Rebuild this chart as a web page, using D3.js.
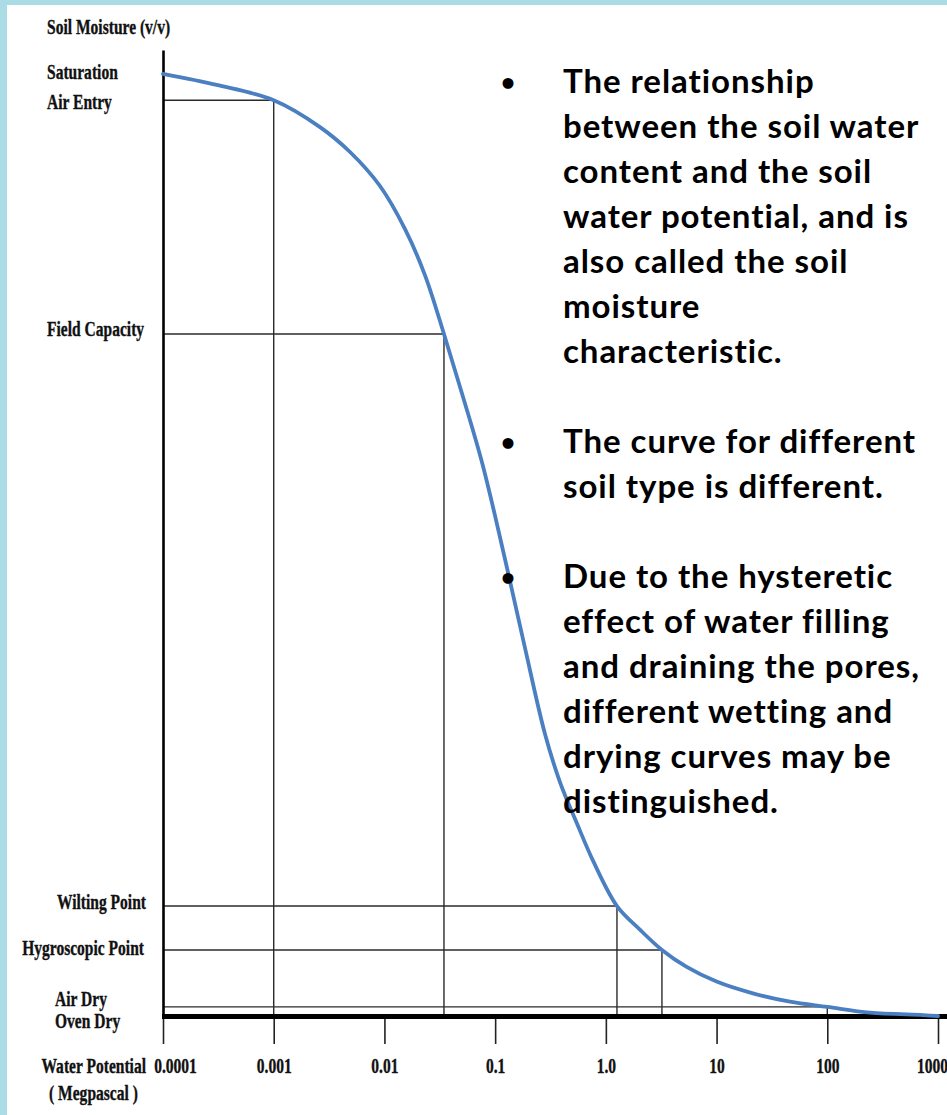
<!DOCTYPE html>
<html>
<head>
<meta charset="utf-8">
<script src="https://cdn.jsdelivr.net/npm/d3@7"></script>
<style>
  html, body { margin: 0; padding: 0; background: #a9dce4; }
  svg { display: block; }
</style>
</head>
<body>
<svg id="chart" width="947" height="1115"></svg>
<script>
// ---- data ----
const curvePotential = [0.0001, 0.000305, 0.001, 0.00262, 0.00489, 0.00912, 0.01535, 0.02322, 0.0345,
                        0.0513, 0.0776, 0.128, 0.186, 0.282, 0.385, 0.546, 0.771, 1.26, 2.03, 3.21,
                        5.37, 10, 21.3, 46, 100, 243, 731, 1000];
const curveMoisture  = [48.76, 48.19, 47.4, 46.01, 44.72, 42.96, 40.73, 38.35, 35.3,
                        32.04, 28.47, 23.19, 19.05, 14.6, 12.11, 9.99, 8.0, 5.69, 4.47, 3.42,
                        2.54, 1.78, 1.17, 0.74, 0.47, 0.17, 0.05, 0.0];

const levelNames     = ["Air Entry", "Field Capacity", "Wilting Point", "Hygroscopic Point", "Air Dry"];
const levelMoisture  = [47.4, 35.3, 5.69, 3.42, 0.47];
const levelPotential = [0.001, 0.0345, 1.26, 3.21, 100];

const extraLabelNames    = ["Saturation", "Oven Dry"];
const extraLabelMoisture = [48.76, 0];

const tickValues = [0.0001, 0.001, 0.01, 0.1, 1, 10, 100, 1000];
const tickLabels = ["0.0001", "0.001", "0.01", "0.1", "1.0", "10", "100", "1000"];

const yTitle = "Soil Moisture (v/v)";
const xTitle = ["Water Potential", "( Megpascal )"];

const bullets = [
  ["The relationship", "between the soil water", "content and the soil", "water potential, and is", "also called the soil", "moisture", "characteristic."],
  ["The curve for different", "soil type is different."],
  ["Due to the hysteretic", "effect of water filling", "and draining the pores,", "different wetting and", "drying curves may be", "distinguished."]
];

// ---- drawing ----
const svg = d3.select("#chart");
svg.append("rect").attr("x", 7).attr("y", 5).attr("width", 940).attr("height", 1110).attr("fill", "#ffffff");

const x = d3.scaleLog().domain([0.0001, 1000]).range([163, 938]);
const y = d3.scaleLinear().domain([0, 50]).range([1016, 50]);

const serif = "'Liberation Serif', 'Times New Roman', serif";
const sx = 0.74;
function styleSerif(sel) {
  return sel.attr("font-family", serif).attr("font-weight", "bold").attr("font-size", 21)
    .attr("fill", "#111").attr("stroke", "#111").attr("stroke-width", 0.35);
}
function serifLabel(g, txt, px, py, anchor) {
  return styleSerif(g.append("text")
    .attr("transform", `translate(${px},${py}) scale(${sx},1)`)
    .attr("text-anchor", anchor || "start")).text(txt);
}

// reference lines
const refs = svg.append("g").attr("stroke", "#2a2a2a").attr("stroke-width", 1.4).attr("fill", "none");
levelNames.forEach((n, i) => {
  refs.append("line").attr("x1", x(0.0001)).attr("x2", x(levelPotential[i]))
    .attr("y1", y(levelMoisture[i])).attr("y2", y(levelMoisture[i]));
  refs.append("line").attr("x1", x(levelPotential[i])).attr("x2", x(levelPotential[i]))
    .attr("y1", y(levelMoisture[i])).attr("y2", y(0));
});

// x axis (ticks + labels)
const xAxis = d3.axisBottom(x).tickValues(tickValues).tickSize(26).tickSizeOuter(0).tickPadding(14)
  .tickFormat((d, i) => tickLabels[i]);
const xg = svg.append("g").attr("transform", "translate(0,1018)").call(xAxis);
xg.select(".domain").remove();
xg.selectAll(".tick line").attr("stroke", "#222").attr("stroke-width", 1.6);
styleSerif(xg.selectAll(".tick text"))
  .attr("transform", (d, i) => `translate(${i === 0 ? 12 : (i === tickValues.length - 1 ? -6 : 0)},0) scale(${sx},1)`);

// thick x axis baseline
svg.append("line").attr("x1", x(0.0001) - 1).attr("x2", 947).attr("y1", y(0) + 0.5).attr("y2", y(0) + 0.5)
  .attr("stroke", "#000").attr("stroke-width", 5);

// y axis
const yAxis = d3.axisLeft(y).tickValues([]).tickSizeOuter(0);
const yg = svg.append("g").attr("transform", `translate(${x(0.0001)},0)`).call(yAxis);
yg.select(".domain").attr("stroke", "#000").attr("stroke-width", 2.6);

// curve
const line = d3.line().x(d => x(d[0])).y(d => y(d[1])).curve(d3.curveCatmullRom.alpha(0.5));
svg.append("path")
  .datum(curvePotential.map((p, i) => [p, curveMoisture[i]]))
  .attr("d", line).attr("fill", "none").attr("stroke", "#4a7fc1").attr("stroke-width", 3.8)
  .attr("stroke-linecap", "round");

// labels
const lab = svg.append("g");
serifLabel(lab, yTitle, 47, 34);
serifLabel(lab, extraLabelNames[0], 47, y(extraLabelMoisture[0]) + 5);
const labelLayout = {
  "Air Entry":         { x: 47,  dy: 9,  anchor: "start" },
  "Field Capacity":    { x: 47,  dy: 2,  anchor: "start" },
  "Wilting Point":     { x: 146, dy: 3,  anchor: "end" },
  "Hygroscopic Point": { x: 144, dy: 5,  anchor: "end" },
  "Air Dry":           { x: 55,  dy: -1, anchor: "start" }
};
levelNames.forEach((n, i) => {
  const L = labelLayout[n];
  serifLabel(lab, n, L.x, y(levelMoisture[i]) + L.dy, L.anchor);
});
serifLabel(lab, extraLabelNames[1], 55, y(extraLabelMoisture[1]) + 12);
serifLabel(lab, xTitle[0], 146, 1073, "end");
serifLabel(lab, xTitle[1], 49, 1100);

// bullet text
const tg = svg.append("g").attr("font-family", "Lato, 'Open Sans', sans-serif").attr("font-weight", "bold")
  .attr("font-size", 33).attr("fill", "#000");
let row = 0;
bullets.forEach((para) => {
  const by = 93.3 + 45 * row;
  tg.append("text").attr("x", 508).attr("y", by - 2).attr("text-anchor", "middle")
    .attr("font-size", 25).text("•");
  para.forEach((ln, li) => {
    tg.append("text").attr("x", 563).attr("y", 93.3 + 45 * (row + li))
      .attr("letter-spacing", 0.95).text(ln);
  });
  row += para.length + 1;
});
</script>
</body>
</html>
